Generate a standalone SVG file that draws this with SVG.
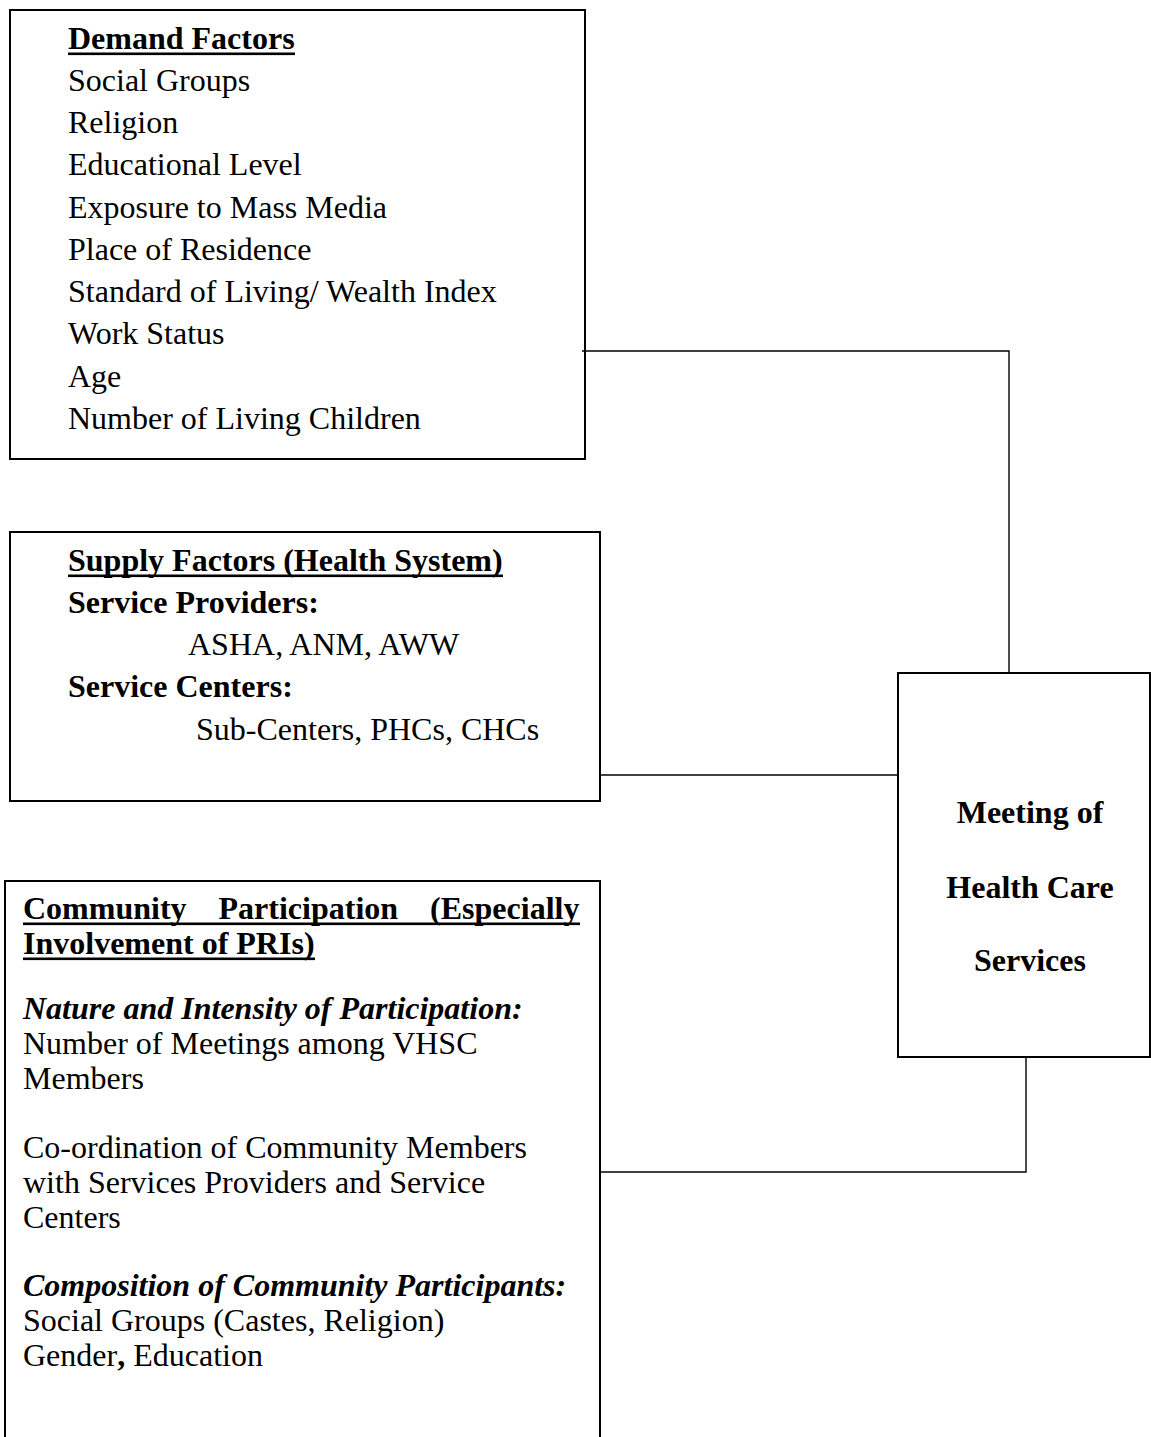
<svg xmlns="http://www.w3.org/2000/svg" width="1151" height="1437" viewBox="0 0 1151 1437">
  <style>
    .box { fill: #ffffff; stroke: #000000; stroke-width: 2; }
    .conn { fill: none; stroke: #000000; stroke-width: 1.4; }
    .ul { fill: #000000; }
    text { font-family: "Liberation Serif", "Times New Roman", serif; font-size: 32px; fill: #000000; }
    .b { font-weight: bold; }
    .bi { font-weight: bold; font-style: italic; }
    .c { text-anchor: middle; }
  </style>
  <rect width="1151" height="1437" fill="#ffffff"/>

  <g id="demand-factors">
    <rect class="box" x="10" y="10" width="575" height="449"/>
    <text class="b" x="68" y="49">Demand Factors</text>
    <rect class="ul" x="68" y="52.5" width="227" height="2.6"/>
    <text x="68" y="91">Social Groups</text>
    <text x="68" y="133">Religion</text>
    <text x="68" y="175">Educational Level</text>
    <text x="68" y="218">Exposure to Mass Media</text>
    <text x="68" y="260">Place of Residence</text>
    <text x="68" y="302">Standard of Living/ Wealth Index</text>
    <text x="68" y="344">Work Status</text>
    <text x="68" y="387">Age</text>
    <text x="68" y="429">Number of Living Children</text>
  </g>

  <g id="supply-factors">
    <rect class="box" x="10" y="532" width="590" height="269"/>
    <text class="b" x="68" y="571">Supply Factors (Health System)</text>
    <rect class="ul" x="68" y="574.5" width="435" height="2.6"/>
    <text class="b" x="68" y="613">Service Providers:</text>
    <text x="188" y="655">ASHA, ANM, AWW</text>
    <text class="b" x="68" y="697">Service Centers:</text>
    <text x="196" y="740">Sub-Centers, PHCs, CHCs</text>
  </g>

  <g id="community-participation">
    <rect class="box" x="5" y="881" width="595" height="580"/>
    <text class="b" x="23" y="919" word-spacing="24">Community Participation (Especially</text>
    <rect class="ul" x="23" y="922.5" width="557" height="2.6"/>
    <text class="b" x="23" y="954">Involvement of PRIs)</text>
    <rect class="ul" x="23" y="957.5" width="292" height="2.6"/>
    <text class="bi" x="23" y="1019">Nature and Intensity of Participation:</text>
    <text x="23" y="1054">Number of Meetings among VHSC</text>
    <text x="23" y="1089">Members</text>
    <text x="23" y="1158">Co-ordination of Community Members</text>
    <text x="23" y="1193">with Services Providers and Service</text>
    <text x="23" y="1228">Centers</text>
    <text class="bi" x="23" y="1296">Composition of Community Participants:</text>
    <text x="23" y="1331">Social Groups (Castes, Religion)</text>
    <text x="23" y="1366">Gender<tspan class="b">,</tspan> Education</text>
  </g>

  <g id="meeting-health-care">
    <rect class="box" x="898" y="673" width="252" height="384"/>
    <text class="b c" x="1030" y="823">Meeting of</text>
    <text class="b c" x="1030" y="898">Health Care</text>
    <text class="b c" x="1030" y="971">Services</text>
  </g>

  <g id="connectors">
    <polyline class="conn" points="582,351 1009,351 1009,673"/>
    <line class="conn" x1="600" y1="775" x2="898" y2="775"/>
    <polyline class="conn" points="600,1172 1026,1172 1026,1057"/>
  </g>
</svg>
